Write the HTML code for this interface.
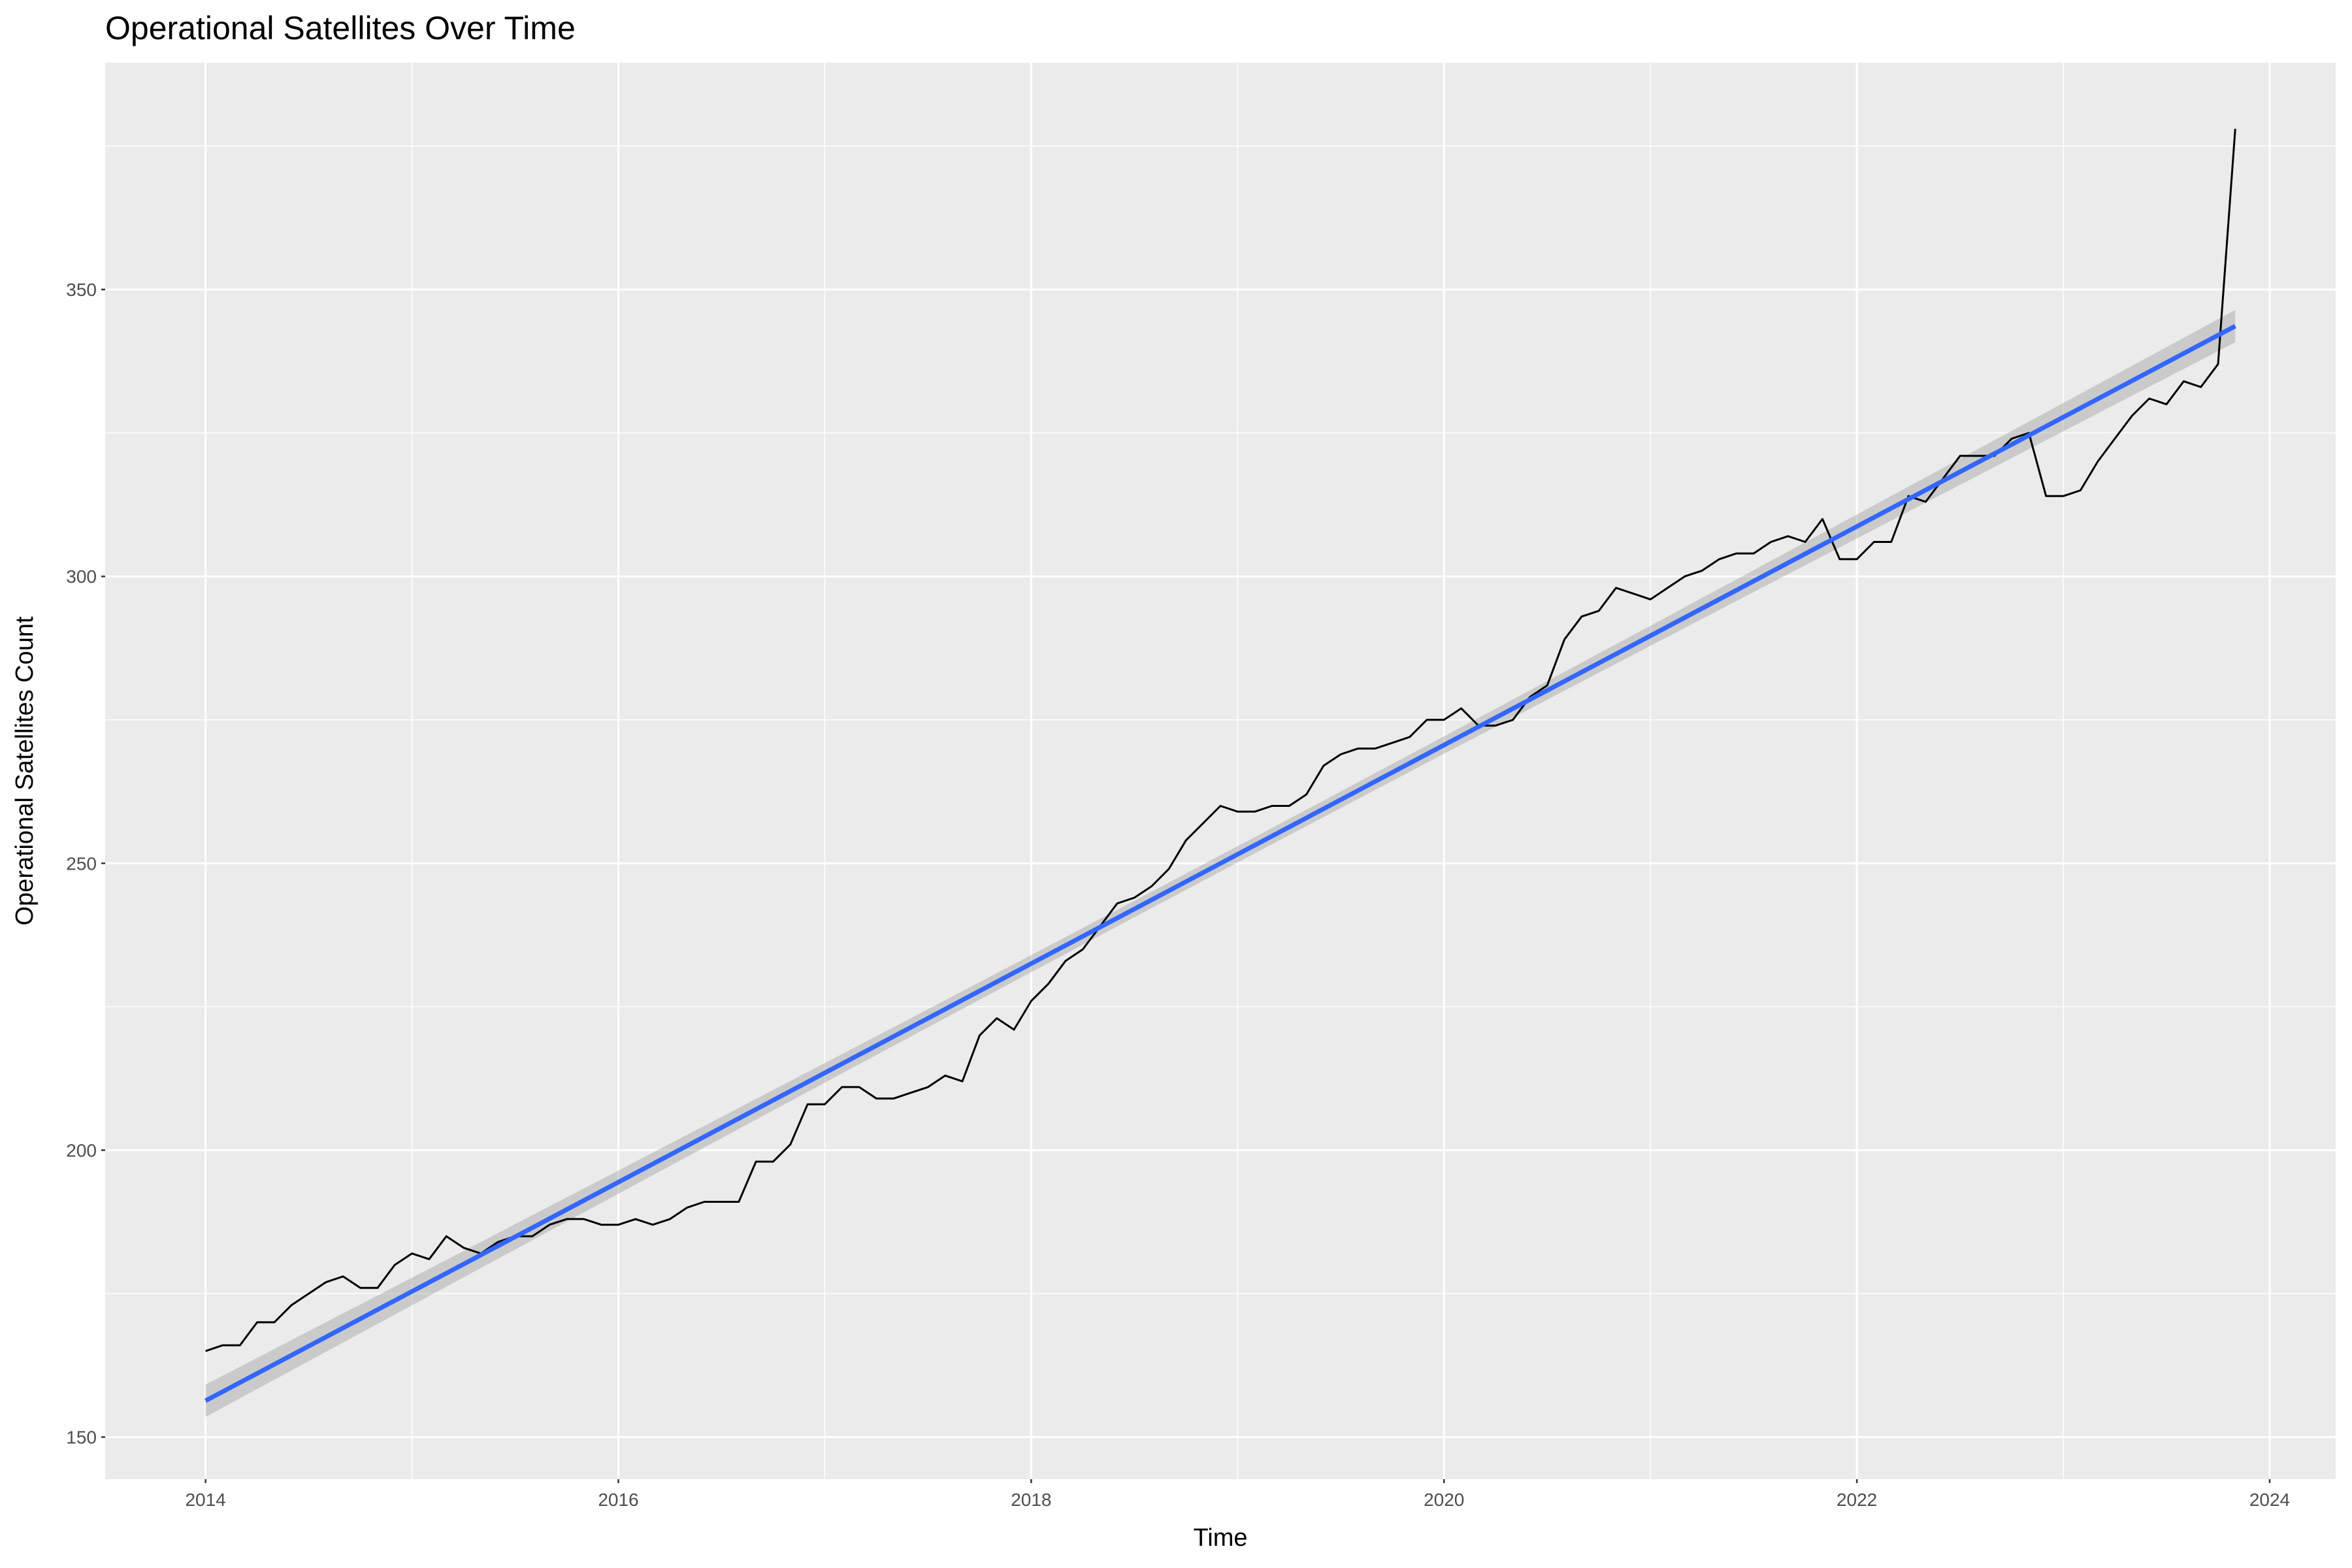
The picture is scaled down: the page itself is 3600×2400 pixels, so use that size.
<!DOCTYPE html>
<html><head><meta charset="utf-8"><style>
html,body{margin:0;padding:0;background:#fff;}
svg{display:block;font-family:"Liberation Sans",Arial,sans-serif;}
</style></head><body>
<svg id="chart" width="3600" height="2400" viewBox="0 0 3600 2400" xmlns="http://www.w3.org/2000/svg">
<rect width="3600" height="2400" fill="#fff"/>
<text x="161" y="60" font-size="50" fill="#000">Operational Satellites Over Time</text>
<rect x="161" y="96" width="3414" height="2168" fill="#ebebeb"/>
<g id="grid"></g>
<g id="band"></g>
<g id="series"></g>
<g id="axes"></g>
<text x="1868" y="2366" font-size="38" text-anchor="middle" fill="#000">Time</text>
<text transform="translate(50,1180) rotate(-90)" font-size="38" text-anchor="middle" fill="#000">Operational Satellites Count</text>
</svg>
<script>
const startYear = 2014;
const satelliteCounts = [165,166,166,170,170,173,175,177,178,176,176,180,
182,181,185,183,182,184,185,185,187,188,188,187,
187,188,187,188,190,191,191,191,198,198,201,208,
208,211,211,209,209,210,211,213,212,220,223,221,
226,229,233,235,239,243,244,246,249,254,257,260,
259,259,260,260,262,267,269,270,270,271,272,275,
275,277,274,274,275,279,281,289,293,294,298,297,
296,298,300,301,303,304,304,306,307,306,310,303,
303,306,306,314,313,317,321,321,321,324,325,314,
314,315,320,324,328,331,330,334,333,337,378];
const yTicks = [150,200,250,300,350];
const yMinor = [175,225,275,325,375];
const xTicks = [2014,2016,2018,2020,2022,2024];
const xMinor = [2015,2017,2019,2021,2023];

const NS="http://www.w3.org/2000/svg";
const PL=161,PR=3575,PT=96,PB=2264;
function xs(t){return 314.6+(t-2014)*(3474-314.6)/10;}
function ys(v){return 2199.6-(v-150)*(2199.6-443.1)/200;}
function mk(tag,attrs,parent){const e=document.createElementNS(NS,tag);for(const k in attrs)e.setAttribute(k,attrs[k]);parent.appendChild(e);return e;}
const grid=document.getElementById('grid'),axes=document.getElementById('axes');
yMinor.forEach(v=>{const l=mk('line',{x1:PL,x2:PR,y1:ys(v),y2:ys(v),stroke:'#fff','stroke-width':1.5},grid);

});
xMinor.forEach(v=>{const l=mk('line',{x1:xs(v),x2:xs(v),y1:PT,y2:PB,stroke:'#fff','stroke-width':1.5},grid);

});
yTicks.forEach(v=>{const y=ys(v);const l=mk('line',{x1:PL,x2:PR,y1:y,y2:y,stroke:'#fff','stroke-width':3},grid);


const t=mk('line',{x1:PL-6,x2:PL,y1:y,y2:y,stroke:'#333','stroke-width':2.5},axes);


const tx=mk('text',{x:PL-13,y:y+10,'font-size':28,'text-anchor':'end',fill:'#4d4d4d'},axes);tx.textContent=v;

});
xTicks.forEach(v=>{const x=xs(v);const l=mk('line',{x1:x,x2:x,y1:PT,y2:PB,stroke:'#fff','stroke-width':3},grid);


const t=mk('line',{x1:x,x2:x,y1:PB,y2:PB+6,stroke:'#333','stroke-width':2.5},axes);


const tx=mk('text',{x:x,y:PB+41,'font-size':28,'text-anchor':'middle',fill:'#4d4d4d'},axes);tx.textContent=v;

});
const n=satelliteCounts.length;
const T=satelliteCounts.map((v,i)=>startYear+i/12);
const pts=satelliteCounts.map((v,i)=>xs(T[i]).toFixed(1)+','+ys(v).toFixed(1)).join(' ');
const pl=mk('polyline',{points:pts,fill:'none',stroke:'#000','stroke-width':3,'stroke-linejoin':'round'},document.getElementById('series'));


const mt=T.reduce((a,b)=>a+b,0)/n,mv=satelliteCounts.reduce((a,b)=>a+b,0)/n;
let sxx=0,sxy=0;T.forEach((t,i)=>{sxx+=(t-mt)**2;sxy+=(t-mt)*(satelliteCounts[i]-mv);});
const b=sxy/sxx,a=mv-b*mt;
let sse=0;T.forEach((t,i)=>{sse+=(satelliteCounts[i]-a-b*t)**2;});
const s=Math.sqrt(sse/(n-2));
const up=[],lo=[];
for(let k=0;k<=60;k++){const t=T[0]+(T[n-1]-T[0])*k/60;const f=a+b*t;const se=1.98*s*Math.sqrt(1/n+(t-mt)**2/sxx);
up.push(xs(t).toFixed(1)+','+ys(f+se).toFixed(1));lo.unshift(xs(t).toFixed(1)+','+ys(f-se).toFixed(1));}
const band=mk('polygon',{points:up.concat(lo).join(' '),fill:'#999',opacity:0.4},document.getElementById('band'));


const fit=mk('line',{x1:xs(T[0]),y1:ys(a+b*T[0]),x2:xs(T[n-1]),y2:ys(a+b*T[n-1]),stroke:'#3366ff','stroke-width':7},document.getElementById('series'));


</script>
</body></html>
